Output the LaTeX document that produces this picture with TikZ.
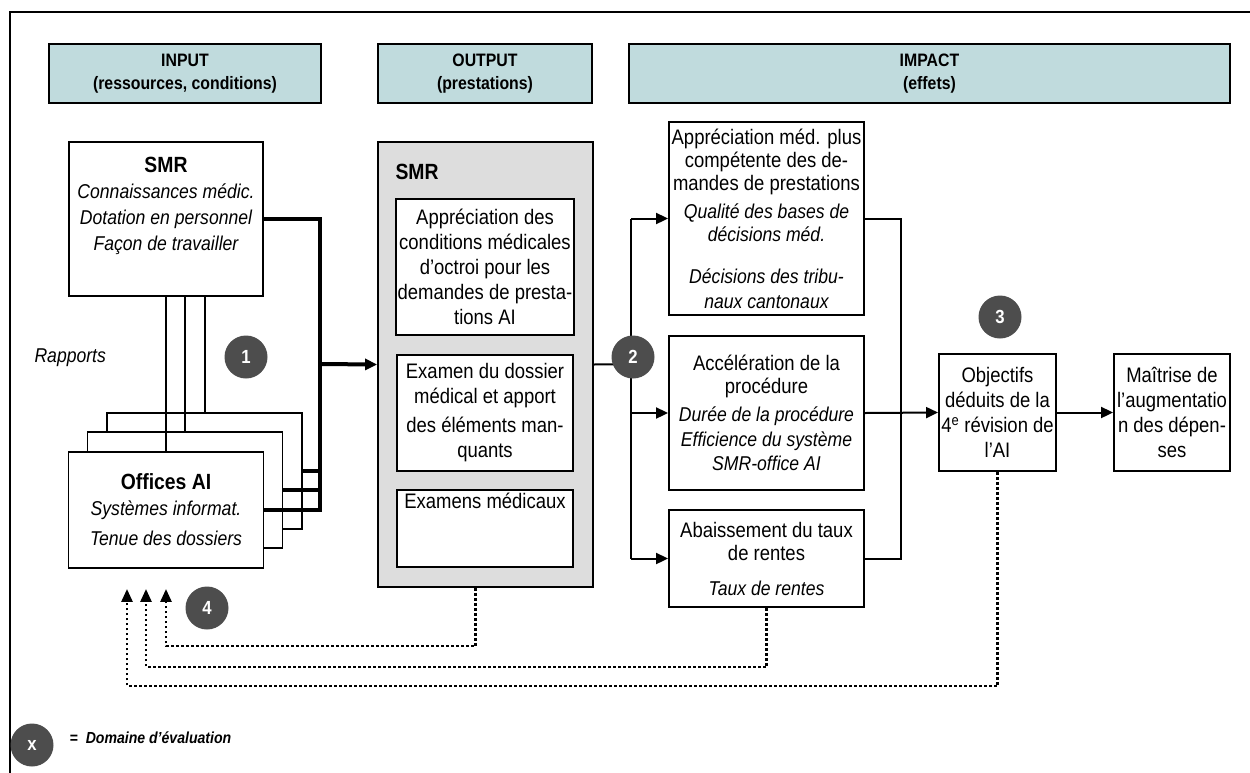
\documentclass[tikz,border=0pt]{standalone}
\usepackage{fontspec}
\setmainfont{Liberation Sans}[FakeStretch=0.88]
\usetikzlibrary{arrows.meta,calc}
\definecolor{headblue}{RGB}{192,219,221}
\definecolor{boxgrey}{RGB}{221,221,221}
\definecolor{numgrey}{RGB}{77,77,77}
\newcommand{\hdrfont}{\bfseries\fontsize{18}{23}\selectfont}
\newcommand{\txtfont}{\fontsize{21}{25}\selectfont}
\newcommand{\itfont}{\itshape\fontsize{20}{23}\selectfont}
\newcommand{\numfont}{\bfseries\fontsize{19}{22}\selectfont}

\begin{document}
\begin{tikzpicture}[x=1pt, y=-1pt,
    hdr/.style={draw, line width=1.9pt, fill=headblue, minimum height=59pt, align=center, font=\hdrfont},
    box/.style={draw, line width=1.9pt, fill=white, align=center, inner sep=2pt, font=\txtfont},
    card/.style={draw, line width=1.9pt, fill=white, minimum width=195pt, minimum height=116pt, align=center, inner sep=2pt, font=\txtfont},
    num/.style={circle, fill=numgrey, text=white, minimum size=43pt, inner sep=0pt, font=\numfont},
    bar/.style={line width=4pt},
    link/.style={line width=2pt},
    fb/.style={line width=2.7pt, dash pattern=on 2.6pt off 2.4pt, -{Triangle[length=13pt,width=11pt]}},
    >={Triangle[length=12pt,width=11pt]}]
    \useasboundingbox (0,0) rectangle (1250,772);
    % Frame
    \draw[line width=2.6pt] (10,12) rectangle (1265,790);

    % Headers
    \node[hdr, minimum width=272pt] (hin) at (185,73.5) {INPUT\\(ressources, conditions)};
    \node[hdr, minimum width=214pt] (hout) at (485,73.5) {OUTPUT\\(prestations)};
    \node[hdr, minimum width=601pt] (himp) at (929.5,73.5) {IMPACT\\(effets)};

    % Input
    \node[box, minimum width=194pt, minimum height=154pt] (smrin) at (166,219) {\parbox[c][150pt][t]{190pt}{\centering\vspace*{13pt}%
        {\bfseries\fontsize{22}{26}\selectfont SMR}\\
        \itfont\fontsize{20}{26}\selectfont Connaissances médic.\\Dotation en personnel\\Façon de travailler}};
    \node[card] (off3) at (204.5,471) {};
    \node[card] (off2) at (185,490) {};
    \node[card] (off1) at (166,510) {{\bfseries\fontsize{22}{26}\selectfont Offices AI}\\[1pt]
        {\itfont Systèmes informat.}\\[5pt]{\itfont Tenue des dossiers}};
    \node[font=\itfont, anchor=west] (rap) at (31,358) {Rapports};

    % Output
    \node[draw, line width=1.9pt, fill=boxgrey, minimum width=215pt, minimum height=445pt] (smrout) at (485.5,364.5) {};
    \node[font=\bfseries\fontsize{22}{26}\selectfont, anchor=west] (smrlbl) at (392,172) {SMR};
    \node[box, minimum width=176pt, minimum height=136pt] (out1) at (485,267) {Appréciation des\\conditions médicales\\d’octroi pour les\\demandes de presta-\\tions AI};
    \node[box, minimum width=176pt, minimum height=116pt] (out2) at (485,413) {Examen du dossier\\médical et apport\\[4pt]des éléments man-\\quants};
    \node[box, minimum width=176pt, inner ysep=6pt, text height=12pt, text depth=53pt] (out3) at (485,528.5) {Examens médicaux};

    % Impact
    \node[box, minimum width=195pt, minimum height=193pt, font=\fontsize{21}{23}\selectfont] (imp1) at (766.5,218.5) {Appréciation méd. plus\\compétente des de-\\mandes de prestations\\[5pt]
        {\itfont Qualité des bases de}\\{\itfont décisions méd.}\\[19pt]{\itfont Décisions des tribu-}\\[2pt]{\itfont naux cantonaux}};
    \node[box, minimum width=195pt, minimum height=154pt, font=\fontsize{21}{23}\selectfont] (imp2) at (766.5,413) {Accélération de la\\procédure\\[5pt]
        {\itfont Durée de la procédure}\\[2pt]{\itfont Efficience du système}\\[1pt]{\itfont SMR-office AI}};
    \node[box, minimum width=195pt, minimum height=97pt, font=\fontsize{21}{23}\selectfont] (imp3) at (766.5,558.5) {Abaissement du taux\\de rentes\\[12pt]{\itfont Taux de rentes}};
    \node[box, minimum width=117pt, minimum height=117pt] (obj) at (997.5,412.5) {Objectifs\\déduits de la\\4\textsuperscript{e} révision de\\l’AI};
    \node[box, minimum width=116pt, minimum height=117pt] (ctrl) at (1172,412.5) {Maîtrise de\\l’augmentatio\\n des dépen-\\ses};

    % Connectors
    \coordinate (j1) at (320,364);
    \coordinate (j2) at (631,364);
    \coordinate (j3) at (901,413);
    \draw[link] (off1.north) -- (off1.north |- smrin.south);
    \draw[link] (off2.north) -- (off2.north |- smrin.south);
    \draw[link] (off3.north) -- (off3.north |- smrin.south);
    \draw[bar] (smrin.east) -| (j1 |- off1.east) -- (off1.east);
    \draw[bar] (off2.east) -- (j1 |- off2.east);
    \draw[bar] (off3.east) -- (j1 |- off3.east);
    \draw[bar,->] (j1) -- (smrout.west);
    \draw[link] (smrout.east) -- (j2);
    \draw[link] (j2 |- imp1.west) -- (j2 |- imp3.west);
    \draw[link,->] (j2 |- imp1.west) -- (imp1.west);
    \draw[link,->] (j2 |- imp2.west) -- (imp2.west);
    \draw[link,->] (j2 |- imp3.west) -- (imp3.west);
    \draw[link] (imp1.east) -| (j3 |- imp3.east) -- (imp3.east);
    \draw[link,->] (imp2.east) -- (obj.west);
    \draw[link,->] (obj.east) -- (ctrl.west);

    % Feedback
    \draw[fb] ([xshift=-10pt]smrout.south) -- ++(0,58) -| ([yshift=-20pt]off1.south);
    \draw[fb] (imp3.south) -- ++(0,59) -| ([xshift=-20pt,yshift=-20pt]off1.south);
    \draw[fb] (obj.south) -- ++(0,214) -| ([xshift=-39pt,yshift=-20pt]off1.south);

    % Evaluation domains
    \node[num] (n1) at (246,357) {1};
    \node[num] (n2) at (633,357) {2};
    \node[num] (n3) at (1000,317) {3};
    \node[num] (n4) at (207,608) {4};
    \node[num] (nx) at (32,745) {x};
    \node[font=\bfseries\itshape\fontsize{16}{19}\selectfont, anchor=west] (leg) at (66,738) {=\hspace{8pt}Domaine d’évaluation};
\end{tikzpicture}
\end{document}
